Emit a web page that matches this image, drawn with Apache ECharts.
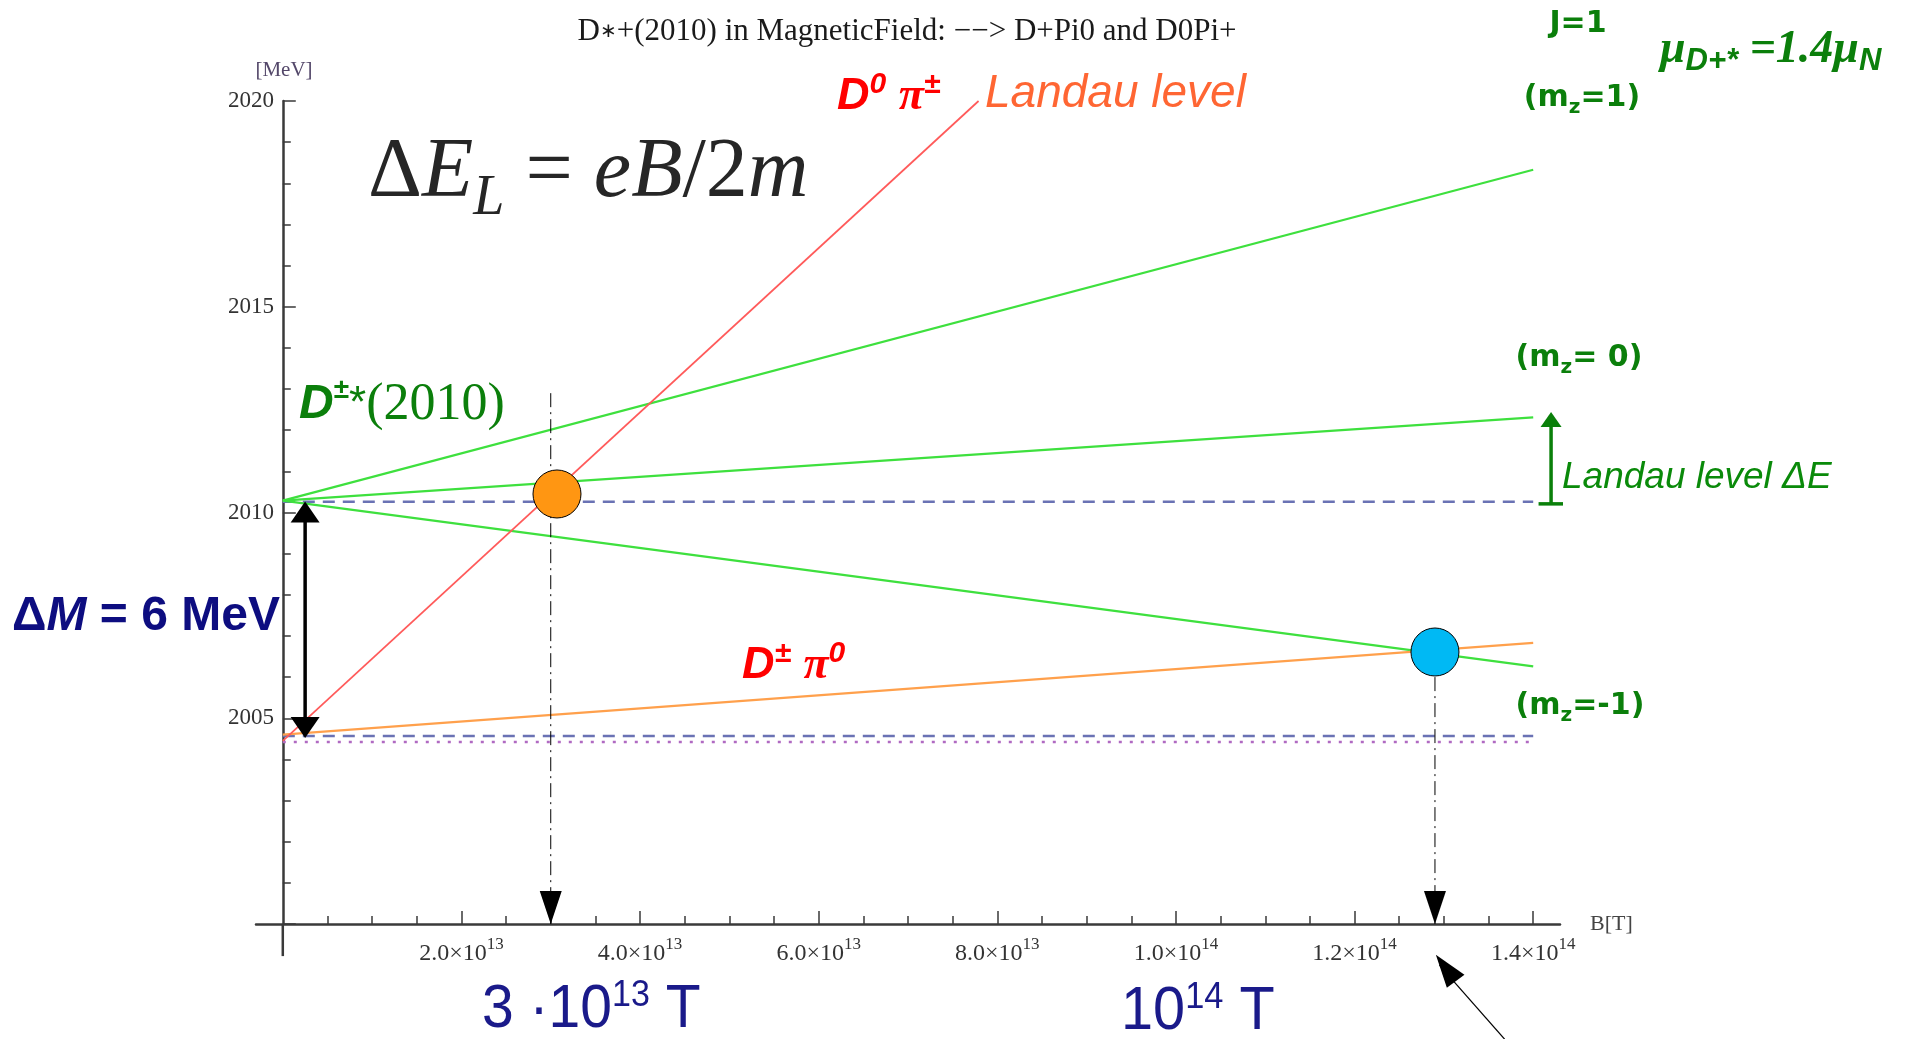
<!DOCTYPE html>
<html><head><meta charset="utf-8">
<script src="https://cdn.jsdelivr.net/npm/echarts@6/dist/echarts.min.js"></script>
<style>html,body{margin:0;padding:0;background:#fff}#c{width:1914px;height:1039px}</style>
</head><body><div id="c"></div>
<script>
// ---------------- data ----------------
const xTickValues = [2e13, 4e13, 6e13, 8e13, 1e14, 1.2e14, 1.4e14];
const xMinorTickValues = [5e12, 1e13, 1.5e13, 2.5e13, 3e13, 3.5e13, 4.5e13, 5e13, 5.5e13, 6.5e13, 7e13, 7.5e13,
  8.5e13, 9e13, 9.5e13, 1.05e14, 1.1e14, 1.15e14, 1.25e14, 1.3e14, 1.35e14];
const yTickLabels = ['2005', '2010', '2015', '2020'];

const mzPlus1 = [[0, 2010.29], [1.4e14, 2018.33]];
const mzZero = [[0, 2010.29], [1.4e14, 2012.31]];
const mzMinus1 = [[0, 2010.29], [1.4e14, 2006.26]];
const d0PiCharged = [[0, 2004.45], [7.79e13, 2020.0]];
const dChargedPi0 = [[0, 2004.6], [1.4e14, 2006.83]];
const dStarLevel = [[0, 2010.26], [1.4e14, 2010.26]];
const dPi0Threshold = [[0, 2004.57], [1.4e14, 2004.57]];
const d0PiThreshold = [[0, 2004.42], [1.4e14, 2004.42]];

const crossingOrange = [[3.07e13, 2010.45]];
const crossingBlue = [[1.29e14, 2006.61]];
const dropLeft = [[3.0e13, 2012.9], [3.0e13, 2000]];
const dropRight = [[1.29e14, 2006.0], [1.29e14, 2000]];
const dropTips = [[3.0e13, 2000], [1.29e14, 2000]];
const deltaMShaft = [[2.5e12, 2009.9], [2.5e12, 2004.9]];
const deltaMTop = [[2.5e12, 2010.27]];
const deltaMBottom = [[2.5e12, 2004.52]];
const landauShaft = [[1.42e14, 2010.21], [1.42e14, 2012.2]];
const landauTip = [[1.42e14, 2012.44]];
const landauBase = [[1.406e14, 2010.21], [1.436e14, 2010.21]];
const pointerShaft = [[1.368e14, 1997.2], [1.295e14, 1999.0]];
const pointerTip = [[1.291e14, 1999.25]];
const yAxisStub = [[0, 2000], [0, 1999.22]];

// ---------------- chart ----------------
const chart = echarts.init(document.getElementById('c'), null, { renderer: 'canvas' });

const AX = '#3a3a3a';
function lineS(data, color, width, type, extra) {
  return Object.assign({
    type: 'line', data, symbol: 'none', silent: true, clip: false,
    lineStyle: { color, width, type: type || 'solid' }, z: 3
  }, extra || {});
}
function headS(data, size, rotate, offset, color) {
  return {
    type: 'scatter', data, symbol: 'triangle', symbolSize: size, symbolRotate: rotate,
    symbolOffset: offset, itemStyle: { color: color || '#000', opacity: 1 }, silent: true, clip: false, z: 6
  };
}
function txt(x, y, text, style, rich, extra) {
  const s = Object.assign({ text, verticalAlign: 'middle', align: 'left' }, style);
  if (rich) s.rich = rich;
  return Object.assign({ type: 'text', x, y, z: 100, style: s }, extra || {});
}

const serif = '"Liberation Serif", "Times New Roman", serif';
const sans = '"Liberation Sans", Arial, sans-serif';
const tahoma = '"DejaVu Sans", Verdana, sans-serif';
const GREEN = '#0b7f0b';
const NAVY = '#0d0d80';
const shG = { textShadowColor: 'rgba(0,0,0,0.85)', textShadowOffsetX: -1.5, textShadowOffsetY: 1.5, textShadowBlur: 0 };
const shR = { textShadowColor: '#000', textShadowOffsetX: -2, textShadowOffsetY: 2, textShadowBlur: 0 };

function greenLabel(x, y, a, sub, b) {
  const base = Object.assign({ fontFamily: tahoma, fontWeight: 'bold', fontSize: 30, fill: GREEN, lineHeight: 40, verticalAlign: 'middle' }, shG);
  return txt(x, y, `{a|${a}}{s|${sub}}{a|${b}}`, { align: 'center' }, {
    a: base,
    s: Object.assign({}, base, { fontSize: 20, lineHeight: 20, verticalAlign: 'bottom' })
  });
}
function redPair(x, y, sup1, sup2) {
  const D = Object.assign({ fontFamily: sans, fontStyle: 'italic', fontWeight: 'bold', fontSize: 45, fill: '#ff0000', lineHeight: 54, verticalAlign: 'middle' }, shR);
  return txt(x, y, `{D|D}{s|${sup1}}{D| }{p|\u03c0}{s|${sup2}}`, {}, {
    D,
    p: Object.assign({}, D, { fontFamily: serif, fontSize: 46 }),
    s: Object.assign({}, D, { fontSize: 30, lineHeight: 30, verticalAlign: 'top' })
  });
}
const bigNavy = { fontFamily: sans, fontSize: 62, fill: '#1a1a8a', lineHeight: 66, verticalAlign: 'middle' };
const supNavy = { fontFamily: sans, fontSize: 37, fill: '#1a1a8a', lineHeight: 37, verticalAlign: 'top' };

const option = {
  animation: false,
  backgroundColor: '#fff',
  grid: { left: 256, right: 354, top: 101, bottom: 115 },
  xAxis: [{
    type: 'value', min: -3e12, max: 1.43e14, position: 'bottom',
    axisLine: { show: true, lineStyle: { color: AX, width: 2.5 } },
    axisTick: { show: true, inside: true, length: 13, customValues: xTickValues, lineStyle: { color: AX, width: 1.5 } },
    axisLabel: {
      show: true, customValues: xTickValues, margin: 12,
      formatter: v => {
        const e = Math.floor(Math.log10(v) + 1e-9);
        const m = (v / Math.pow(10, e)).toFixed(1);
        return `{m|${m}×10}{s|${e}}`;
      },
      rich: {
        m: { fontFamily: serif, fontSize: 24, color: '#333', lineHeight: 30, verticalAlign: 'bottom' },
        s: { fontFamily: serif, fontSize: 17, color: '#333', lineHeight: 30, verticalAlign: 'top' }
      }
    },
    splitLine: { show: false }
  }, {
    type: 'value', min: -3e12, max: 1.43e14, position: 'bottom',
    axisLine: { show: false },
    axisTick: { show: true, inside: true, length: 8, customValues: xMinorTickValues, lineStyle: { color: AX, width: 1.5 } },
    axisLabel: { show: false },
    splitLine: { show: false }
  }],
  yAxis: {
    type: 'value', min: 2000, max: 2020, interval: 5,
    axisLine: { show: true, onZero: true, lineStyle: { color: AX, width: 2.5 } },
    axisTick: { show: true, inside: true, length: 13, lineStyle: { color: AX, width: 1.5 } },
    minorTick: { show: true, splitNumber: 5, length: 8, lineStyle: { color: AX, width: 1.5 } },
    axisLabel: {
      margin: -18, fontFamily: serif, fontSize: 23, color: '#333',
      formatter: v => (yTickLabels.indexOf(String(v)) >= 0 ? String(v) : '')
    },
    splitLine: { show: false }
  },
  series: [
    lineS(yAxisStub, AX, 2.5, 'solid', { z: 2 }),
    lineS(dStarLevel, '#6a72b4', 2.5, [12, 8]),
    lineS(dPi0Threshold, '#6a72b4', 2.5, [12, 8]),
    lineS(d0PiThreshold, '#b06ac2', 2.5, [3, 8]),
    lineS(mzPlus1, '#3ee03e', 2.2),
    lineS(mzZero, '#3ee03e', 2.2),
    lineS(mzMinus1, '#3ee03e', 2.2),
    lineS(dChargedPi0, '#ffa04c', 2.2),
    lineS(d0PiCharged, '#ff5a5a', 1.7),
    lineS(dropLeft, '#000', 1, [14, 5, 2, 5]),
    lineS(dropRight, '#000', 1, [14, 5, 2, 5]),
    headS(dropTips, [22, 33], 180, [0, -16.5]),
    lineS(deltaMShaft, '#000', 3.5),
    headS(deltaMTop, [29, 21], 0, [0, 10.5]),
    headS(deltaMBottom, [29, 21], 180, [0, -10.5]),
    lineS(landauShaft, '#0a800a', 3.5),
    lineS(landauBase, '#0a800a', 3.5),
    headS(landauTip, [21, 15], 0, [0, 7.5], '#0a800a'),
    lineS(pointerShaft, '#000', 1.2),
    headS(pointerTip, [22, 33], 36.9, [9.9, 13.2]),
    {
      type: 'scatter', data: crossingOrange, symbol: 'circle', symbolSize: 48, silent: true, z: 8,
      itemStyle: { color: '#ff9612', borderColor: '#000', borderWidth: 1, opacity: 1 }
    },
    {
      type: 'scatter', data: crossingBlue, symbol: 'circle', symbolSize: 48, silent: true, z: 8,
      itemStyle: { color: '#00b9f4', borderColor: '#000', borderWidth: 1, opacity: 1 }
    }
  ],
  graphic: [
    txt(907, 32, '{t|D}{a|\u2217}{t|+(2010) in MagneticField: \u2212\u2212> D+Pi0 and D0Pi+}', { align: 'center' }, {
      t: { fontFamily: serif, fontSize: 31, fill: '#1a1a1a', lineHeight: 36, verticalAlign: 'middle' },
      a: { fontFamily: serif, fontSize: 20, fill: '#1a1a1a', lineHeight: 36, verticalAlign: 'middle' }
    }),
    txt(284, 70, '[MeV]', { align: 'center', font: `21px ${serif}`, fill: '#54486a' }),
    txt(1590, 924, 'B[T]', { align: 'left', font: `22px ${serif}`, fill: '#444' }),
    // formula
    txt(368, 174, '{r|\u0394}{i|E}{l|L}{r| = }{i|eB}{r|/2}{i|m}', {}, {
      r: { fontFamily: serif, fontSize: 84, fill: '#262626', lineHeight: 106, verticalAlign: 'middle' },
      i: { fontFamily: serif, fontStyle: 'italic', fontSize: 84, fill: '#262626', lineHeight: 106, verticalAlign: 'middle' },
      l: { fontFamily: serif, fontStyle: 'italic', fontSize: 56, fill: '#262626', lineHeight: 56, verticalAlign: 'bottom' }
    }),
    redPair(837, 97, '0', '\u00b1'),
    txt(985, 94, 'Landau level', { font: `italic 46px ${sans}`, fill: '#ff6633' }),
    redPair(742, 666, '\u00b1', '0'),
    // D+-*(2010)
    txt(299, 405, '{D|D}{s|\u00b1}{a|*}{p|(2010)}', {}, {
      D: Object.assign({ fontFamily: sans, fontStyle: 'italic', fontWeight: 'bold', fontSize: 48, fill: GREEN, lineHeight: 58, verticalAlign: 'middle' }, shG),
      s: Object.assign({ fontFamily: sans, fontWeight: 'bold', fontSize: 28, fill: GREEN, lineHeight: 28, verticalAlign: 'top' }, shG),
      a: Object.assign({ fontFamily: sans, fontSize: 44, fill: GREEN, lineHeight: 58, verticalAlign: 'middle' }, shG),
      p: Object.assign({ fontFamily: serif, fontSize: 52, fill: GREEN, lineHeight: 58, verticalAlign: 'middle' }, shG)
    }),
    // Delta M
    txt(12, 617, '{b|\u0394}{i|M}{b| = 6 MeV}', {}, {
      b: { fontFamily: sans, fontWeight: 'bold', fontSize: 48, fill: NAVY, textShadowColor: 'rgba(60,60,140,0.6)', textShadowOffsetX: -2, textShadowOffsetY: 2 },
      i: { fontFamily: sans, fontWeight: 'bold', fontStyle: 'italic', fontSize: 48, fill: NAVY, textShadowColor: 'rgba(60,60,140,0.6)', textShadowOffsetX: -2, textShadowOffsetY: 2 }
    }),
    // right side labels
    txt(1578, 24, 'J=1', Object.assign({ align: 'center', font: `bold 30px ${tahoma}`, fill: GREEN }, shG)),
    greenLabel(1582, 98, '(m', 'z', '=1)'),
    greenLabel(1579, 358, '(m', 'z', '= 0)'),
    greenLabel(1580, 706, '(m', 'z', '=-1)'),
    txt(1660, 50, '{m|\u03bc}{s|D+*}{m| =1.4\u03bc}{s|N}', {}, {
      m: Object.assign({ fontFamily: serif, fontStyle: 'italic', fontWeight: 'bold', fontSize: 46, fill: GREEN, lineHeight: 54, verticalAlign: 'middle' }, shG),
      s: Object.assign({ fontFamily: sans, fontStyle: 'italic', fontWeight: 'bold', fontSize: 31, fill: GREEN, lineHeight: 31, verticalAlign: 'bottom' }, shG)
    }),
    txt(1562, 478, 'Landau level \u0394E', { font: `italic 37px ${sans}`, fill: '#0a8a0a' }),
    // bottom annotations
    txt(482, 1010, '{t|3 \u00b710}{s|13}{t| T}', {}, { t: bigNavy, s: supNavy }, { scaleX: 0.92 }),
    txt(1121, 1012, '{t|10}{s|14}{t| T}', {}, { t: bigNavy, s: supNavy }, { scaleX: 0.93 })
  ]
};
chart.setOption(option);
</script>
</body></html>
